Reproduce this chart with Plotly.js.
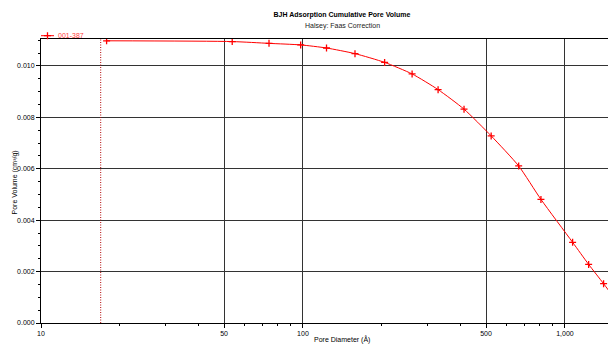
<!DOCTYPE html>
<html>
<head>
<meta charset="utf-8">
<script src="https://cdn.plot.ly/plotly-3.0.1.min.js"></script>
<style>html,body{margin:0;padding:0;background:#fff;}#chart{width:608px;height:345px;}</style>
</head>
<body>
<div id="chart"></div>
<script>
// Data
var seriesName = '001-387';
var poreDiameter = [17.8, 53.7, 74.2, 98.0, 123, 158, 205, 261, 328, 412, 523, 666, 810, 1070, 1232, 1405, 1590];
var poreVolume = [0.01098, 0.01095, 0.01088, 0.01082, 0.01070, 0.01048, 0.01014, 0.00969, 0.00908, 0.00832, 0.00728, 0.00611, 0.00481, 0.00314, 0.00228, 0.00153, 0.00080];
var markerLine = 16.9;
var xTickVals = [10, 50, 100, 500, 1000];
var xTickText = ['10', '50', '100', '500', '1,000'];
var xMinorVals = [20, 30, 40, 60, 70, 80, 90, 200, 300, 400, 600, 700, 800, 900];
var yTickVals = [0, 0.002, 0.004, 0.006, 0.008, 0.010];

var FONT = 'Liberation Sans, Arial, sans-serif';

var trace = {
  x: poreDiameter,
  y: poreVolume,
  name: seriesName,
  type: 'scatter',
  mode: 'lines+markers',
  line: {color: '#ff0000', width: 1, shape: 'spline', smoothing: 0.6},
  marker: {symbol: 'cross-thin', size: 5, color: '#ff0000', line: {color: '#ff0000', width: 1.3}},
  cliponaxis: true,
  showlegend: true
};

var layout = {
  width: 608,
  height: 345,
  margin: {l: 41, r: 0, t: 39, b: 22, pad: 0},
  paper_bgcolor: '#ffffff',
  plot_bgcolor: '#ffffff',
  font: {family: FONT, size: 7, color: '#000'},
  showlegend: true,
  legend: {
    x: 0, y: (323 - 35.7) / 284, xanchor: 'left', yanchor: 'middle',
    orientation: 'h',
    font: {family: FONT, size: 7, color: '#ff3b3b'},
    itemwidth: 30,
    bgcolor: 'rgba(0,0,0,0)',
    borderwidth: 0,
    tracegroupgap: 0
  },
  title: {
    text: '<b>BJH Adsorption Cumulative Pore Volume</b>',
    x: 342 / 608, xref: 'container', xanchor: 'center',
    y: 1 - 14.5 / 345, yref: 'container', yanchor: 'middle',
    font: {family: FONT, size: 7, color: '#000'}
  },
  xaxis: {
    type: 'log',
    range: [1, 3.1645],
    tickmode: 'array',
    tickvals: xTickVals,
    ticktext: xTickText,
    ticks: 'outside',
    ticklen: 4,
    tickwidth: 1,
    tickcolor: '#000',
    showgrid: true,
    gridcolor: '#333',
    gridwidth: 1,
    showline: true,
    linecolor: '#000',
    linewidth: 1,
    mirror: true,
    zeroline: false,
    tickfont: {family: FONT, size: 7, color: '#000'},
    minor: {tickmode: 'array', tickvals: xMinorVals, ticks: 'outside', ticklen: 2, tickcolor: '#000', showgrid: false},
    fixedrange: true
  },
  yaxis: {
    range: [0, 0.01105],
    tickmode: 'array',
    tickvals: yTickVals,
    tickformat: '.3f',
    ticks: 'outside',
    ticklen: 4,
    tickwidth: 1,
    tickcolor: '#000',
    showgrid: true,
    gridcolor: '#333',
    gridwidth: 1,
    showline: true,
    linecolor: '#000',
    linewidth: 1,
    zeroline: false,
    tickfont: {family: FONT, size: 7, color: '#000'},
    minor: {dtick: 0.0005, ticks: 'outside', ticklen: 2, tickcolor: '#000', showgrid: false},
    fixedrange: true
  },
  shapes: [{
    type: 'line', xref: 'x', yref: 'paper',
    x0: markerLine, x1: markerLine, y0: 0, y1: 1,
    line: {color: '#b00000', width: 1, dash: '1px,1.5px'}
  }],
  annotations: [
    {text: 'Halsey: Faas Correction', xref: 'paper', yref: 'paper', x: (342 - 41) / 567, y: (323 - 26) / 284,
     xanchor: 'center', yanchor: 'middle', showarrow: false, font: {family: FONT, size: 7, color: '#222'}},
    {text: 'Pore Diameter (Å)', xref: 'paper', yref: 'paper', x: (342 - 41) / 567, y: (323 - 339) / 284,
     xanchor: 'center', yanchor: 'middle', showarrow: false, font: {family: FONT, size: 7, color: '#000'}},
    {text: 'Pore Volume (cm³/g)', xref: 'paper', yref: 'paper', x: (14.5 - 41) / 567, y: (323 - 183) / 284,
     xanchor: 'center', yanchor: 'middle', textangle: -90, showarrow: false, font: {family: FONT, size: 7, color: '#000'}}
  ]
};

Plotly.newPlot('chart', [trace], layout, {displayModeBar: false, staticPlot: true}).then(function (gd) {
  // shorten the legend sample to match the reference's compact legend key
  var item = gd.querySelector('.legend .traces');
  if (!item) return;
  var ln = item.querySelector('.legendlines path');
  if (ln) ln.setAttribute('d', 'M0,0h13');
  item.querySelectorAll('.legendpoints path').forEach(function (p) {
    p.setAttribute('transform', 'translate(6.5,0)');
  });
  var tx = item.querySelector('.legendtext');
  if (tx) tx.setAttribute('x', 17);
});
</script>
</body>
</html>
